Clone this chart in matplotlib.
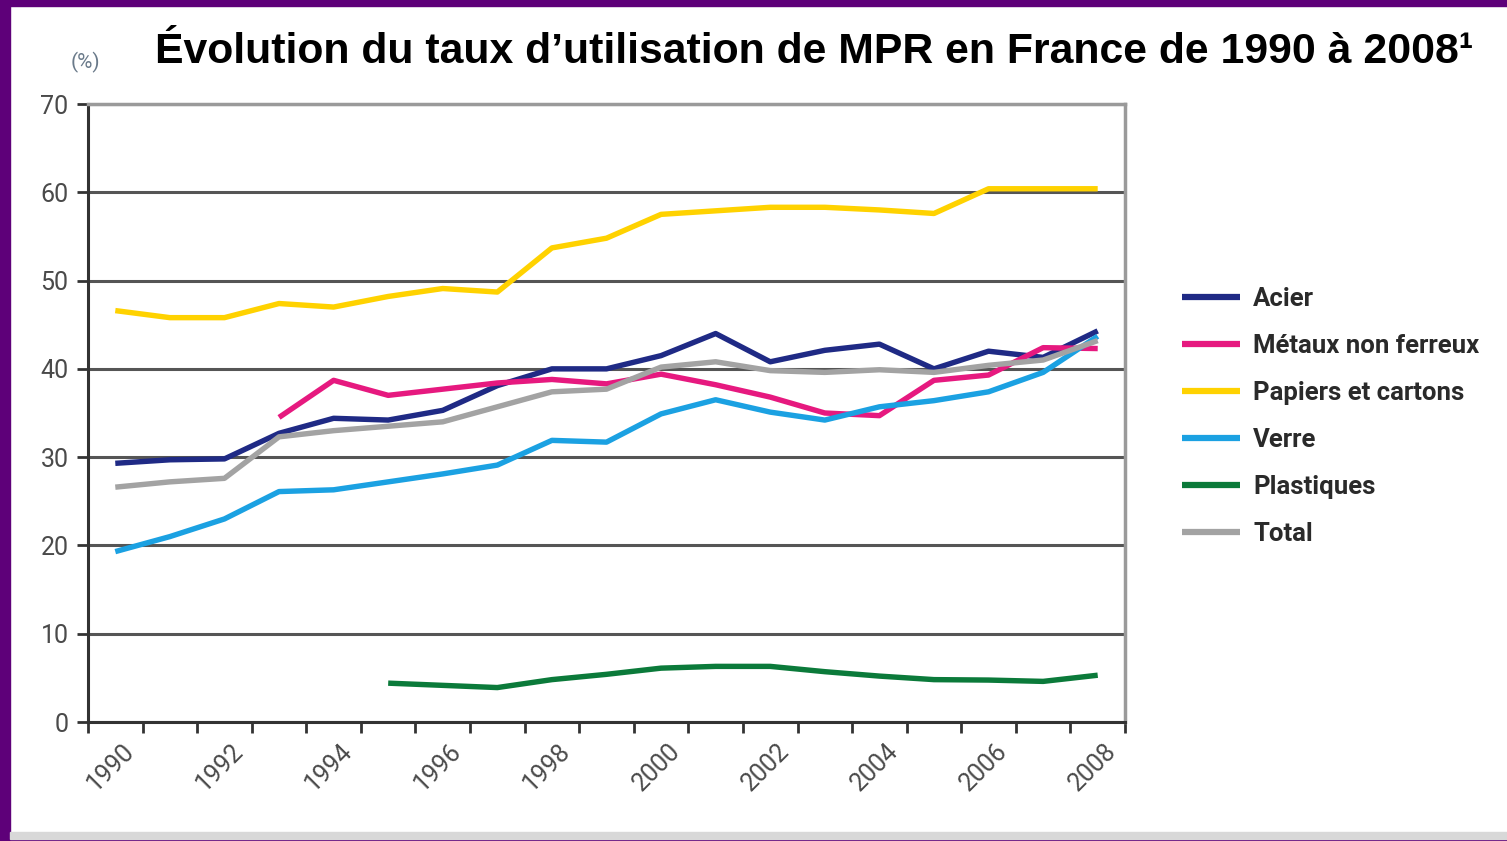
import matplotlib.pyplot as plt
import matplotlib.transforms as mtransforms
from matplotlib.patches import Rectangle
import numpy as np

years = list(range(1990, 2009))
nan = np.nan

acier = [29.3, 29.7, 29.8, 32.7, 34.4, 34.2, 35.3, 38.1, 40.0, 40.0,
         41.5, 44.0, 40.8, 42.1, 42.8, 40.0, 42.0, 41.3, 44.3]
metaux = [nan, nan, nan, 34.5, 38.7, 37.0, 37.7, 38.4, 38.8, 38.3,
          39.4, 38.2, 36.8, 35.0, 34.7, 38.7, 39.3, 42.4, 42.3]
papiers = [46.6, 45.8, 45.8, 47.4, 47.0, 48.2, 49.1, 48.7, 53.7, 54.8,
           57.5, 57.9, 58.3, 58.3, 58.0, 57.6, 60.4, 60.4, 60.4]
verre = [19.3, 21.0, 23.0, 26.1, 26.3, 27.2, 28.1, 29.1, 31.9, 31.7,
         34.9, 36.5, 35.1, 34.2, 35.7, 36.4, 37.4, 39.6, 43.7]
plastiques = [nan, nan, nan, nan, nan, 4.4, 4.15, 3.9, 4.8, 5.4,
              6.1, 6.3, 6.3, 5.7, 5.2, 4.8, 4.75, 4.6, 5.3]
total = [26.6, 27.2, 27.6, 32.3, 33.0, 33.5, 34.0, 35.7, 37.4, 37.7,
         40.2, 40.8, 39.8, 39.6, 39.9, 39.6, 40.4, 41.0, 43.2]

series = [
    ("Acier", acier, "#1f2a85"),
    ("Métaux non ferreux", metaux, "#e6197f"),
    ("Papiers et cartons", papiers, "#ffd200"),
    ("Verre", verre, "#1ba1e2"),
    ("Plastiques", plastiques, "#0b7a3a"),
    ("Total", total, "#a3a3a3"),
]

small_font = ["Roboto", "DejaVu Sans"]

fig = plt.figure(figsize=(15.07, 8.41), dpi=100)
fig.patch.set_facecolor("white")

# purple frame around the slide
frame_col = "#5e0079"
fig.add_artist(Rectangle((0, 1 - 6 / 841), 1, 6 / 841, transform=fig.transFigure,
                         color=frame_col, zorder=0))
fig.add_artist(Rectangle((0, 0), 10 / 1507, 1, transform=fig.transFigure,
                         color=frame_col, zorder=0))
fig.add_artist(Rectangle((0, 0), 1, 2 / 841, transform=fig.transFigure,
                         color=frame_col, zorder=0))
fig.add_artist(Rectangle((10 / 1507, 2 / 841), 1, 7 / 841, transform=fig.transFigure,
                         color="#d8d8d8", zorder=0))

ax = fig.add_axes([88 / 1507, 119 / 841, 1037 / 1507, 618 / 841])

for name, vals, col in series:
    ax.plot(years, vals, color=col, linewidth=3.9, label=name,
            solid_capstyle="butt", zorder=3)

ax.set_xlim(1989.5, 2008.5)
ax.set_ylim(0, 70)
ax.set_yticks(range(0, 80, 10))
ax.yaxis.grid(True, color="#555555", linewidth=2.2)
ax.set_axisbelow(True)

ax.set_xticks(range(1990, 2009, 2))
ax.set_xticks(np.arange(1989.5, 2009, 1), minor=True)
ax.tick_params(axis="x", which="major", length=0, pad=18)
ax.tick_params(axis="x", which="minor", length=8, width=2, color="#333333")
ax.tick_params(axis="y", length=8, width=2, color="#333333", pad=6)

for lab in ax.get_xticklabels():
    lab.set_rotation(45)
    lab.set_ha("right")
    lab.set_va("center")
    lab.set_rotation_mode("anchor")
    lab.set_family(small_font)
    lab.set_fontsize(18)
    lab.set_color("#4a4a4a")
    lab.set_transform(lab.get_transform() +
                      mtransforms.ScaledTranslation(0.15, 0, fig.dpi_scale_trans))
for lab in ax.get_yticklabels():
    lab.set_family(small_font)
    lab.set_fontsize(18)
    lab.set_color("#4a4a4a")

ax.spines["left"].set_color("#333333")
ax.spines["left"].set_linewidth(2.2)
ax.spines["bottom"].set_color("#333333")
ax.spines["bottom"].set_linewidth(2.2)
ax.spines["top"].set_color("#9a9a9a")
ax.spines["top"].set_linewidth(2.5)
ax.spines["right"].set_color("#9a9a9a")
ax.spines["right"].set_linewidth(2.5)

leg = ax.legend(loc="upper left", bbox_to_anchor=(1.043, 0.725), frameon=False,
                handlelength=2.25, handletextpad=0.5, labelspacing=0.9,
                borderpad=0, prop={"family": small_font, "size": 18.5, "weight": "bold"})
for t in leg.get_texts():
    t.set_color("#2a2a2a")
for h in leg.get_lines():
    h.set_linewidth(4.5)

fig.text(85 / 1507, 1 - 62 / 841, "(%)", family=small_font, fontsize=15,
         color="#6a7a8a", ha="center", va="center")

fig.text(155 / 1507, 1 - 52 / 841,
         "Évolution du taux d’utilisation de MPR en France de 1990 à 2008¹",
         family=["Liberation Sans", "DejaVu Sans"], fontsize=30.8, fontweight="bold",
         color="black", ha="left", va="center")

fig.savefig("out.png", dpi=100, facecolor=fig.get_facecolor())
